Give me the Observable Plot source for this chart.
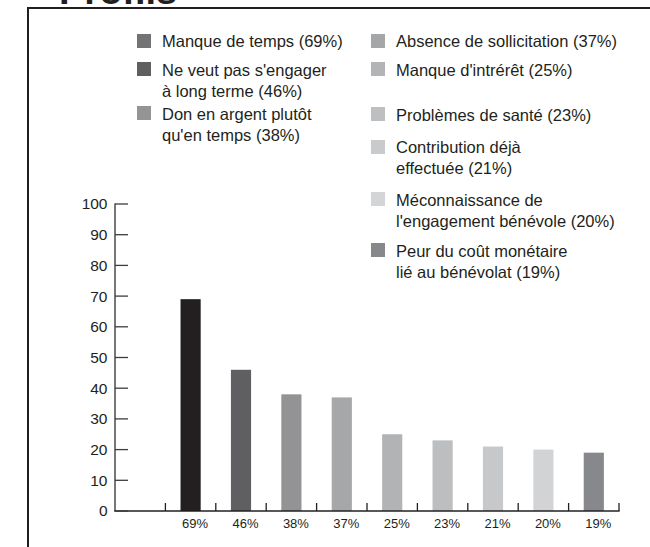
<!DOCTYPE html>
<html><head><meta charset="utf-8">
<script src="https://cdn.jsdelivr.net/npm/d3@7"></script>
<script src="https://cdn.jsdelivr.net/npm/@observablehq/plot@0.6"></script>
<style>
html,body{margin:0;padding:0;background:#fff;}
#wrap{position:relative;width:650px;height:547px;overflow:hidden;font-family:"Liberation Sans",Arial,Helvetica,sans-serif;color:#231f20;}
#frame{position:absolute;left:27px;top:7px;right:-5px;bottom:-10px;border-left:2px solid #231f20;border-top:2px solid #231f20;}
#title{position:absolute;left:59px;top:-27.7px;font-weight:bold;font-size:38px;line-height:38px;white-space:nowrap;}
.sq{position:absolute;width:14px;height:14px;}
.txt{position:absolute;font-size:16.5px;line-height:21px;white-space:nowrap;}
#chart{position:absolute;left:0;top:0;}
</style>
</head><body>
<div id="wrap">
  <div id="title">Profils</div>
  <div id="frame"></div>
  <div id="chart"></div>
  <div id="legend"></div>
</div>
<script>
// ---- data ----
const reasons = [
  "Manque de temps",
  "Ne veut pas s'engager à long terme",
  "Don en argent plutôt qu'en temps",
  "Absence de sollicitation",
  "Manque d'intrérêt",
  "Problèmes de santé",
  "Contribution déjà effectuée",
  "Méconnaissance de l'engagement bénévole",
  "Peur du coût monétaire lié au bénévolat"
];
const values = [69, 46, 38, 37, 25, 23, 21, 20, 19];
const xTickLabels = ["69%", "46%", "38%", "37%", "25%", "23%", "21%", "20%", "19%"];
const yTicks = [0, 10, 20, 30, 40, 50, 60, 70, 80, 90, 100];
const legendLines = [
  ["Manque de temps (69%)"],
  ["Ne veut pas s'engager", "à long terme (46%)"],
  ["Don en argent plutôt", "qu'en temps (38%)"],
  ["Absence de sollicitation (37%)"],
  ["Manque d'intrérêt (25%)"],
  ["Problèmes de santé (23%)"],
  ["Contribution déjà", "effectuée (21%)"],
  ["Méconnaissance de", "l'engagement bénévole (20%)"],
  ["Peur du coût monétaire", "lié au bénévolat (19%)"]
];
const barColors = ["#231f20", "#5f5f61", "#939396", "#a6a7a9", "#b2b3b5", "#bdbec0", "#c7c8ca", "#d2d3d5", "#87888b"];
const legendColors = ["#737375", "#5f5f61", "#949497", "#a5a6a8", "#b3b4b6", "#bebfc1", "#c9cacc", "#d4d5d7", "#87888b"];

// ---- layout (styling only) ----
const legendLayout = [
  {left: 137, base: 47.5}, {left: 137, base: 76}, {left: 137, base: 120},
  {left: 371, base: 47.5}, {left: 371, base: 76}, {left: 371, base: 121},
  {left: 371, base: 153.5}, {left: 371, base: 206}, {left: 371, base: 257}
];

const data = reasons.map((r, i) => ({reason: r, value: values[i], label: xTickLabels[i]}));
const labelOf = new Map(data.map(d => [d.reason, d.label]));
const placeholder = " ";
const xDomain = [placeholder, ...reasons];

const plot = Plot.plot({
  width: 650, height: 547,
  marginLeft: 115, marginRight: 31, marginTop: 204, marginBottom: 36,
  style: {fontFamily: "Liberation Sans, Arial, sans-serif", color: "#231f20", background: "transparent"},
  x: {domain: xDomain, paddingInner: 0.6, paddingOuter: 0.3, round: false, label: null},
  y: {domain: [0, 100], label: null},
  color: {domain: reasons, range: barColors},
  marks: [
    Plot.barY(data, {x: "reason", y: "value", fill: "reason"}),
    Plot.axisY(yTicks, {tickSize: 0, tickPadding: 8, fontSize: 15.5, label: null}),
    Plot.axisX({tickSize: 0, tickPadding: 7, dx: 4, fontSize: 13, tickFormat: d => labelOf.get(d) ?? "", label: null})
  ]
});
document.getElementById("chart").appendChild(plot);

// axis lines and inward ticks, placed with the plot's own scales
const sx = plot.scale("x"), sy = plot.scale("y");
const svg = d3.select(plot);
const x0 = sx.apply(placeholder) - (sx.step - sx.bandwidth) / 2;
const xEnd = sx.apply(reasons[reasons.length - 1]) + sx.bandwidth + (sx.step - sx.bandwidth) / 2;
const y0 = sy.apply(0), yTop = sy.apply(100);
const g = svg.append("g").attr("fill", "none");
g.append("line").attr("x1", x0).attr("x2", x0).attr("y1", yTop - 0.6).attr("y2", y0)
  .attr("stroke", "#4a4a4c").attr("stroke-width", 1.5);
g.append("line").attr("x1", x0 - 0.7).attr("x2", xEnd + 0.6).attr("y1", y0).attr("y2", y0)
  .attr("stroke", "#231f20").attr("stroke-width", 1.6);
yTicks.forEach(t => {
  const yy = sy.apply(t);
  g.append("line").attr("x1", x0).attr("x2", x0 + 13).attr("y1", yy).attr("y2", yy)
    .attr("stroke", "#3d3d3f").attr("stroke-width", 1.3);
});
xDomain.forEach(d => {
  const xr = sx.apply(d) + sx.bandwidth + (sx.step - sx.bandwidth) / 2;
  g.append("line").attr("x1", xr).attr("x2", xr).attr("y1", y0).attr("y2", y0 - 8)
    .attr("stroke", "#231f20").attr("stroke-width", 1.3);
});

// legend
const legend = document.getElementById("legend");
legendLines.forEach((lines, i) => {
  const L = legendLayout[i];
  const sq = document.createElement("div");
  sq.className = "sq";
  sq.style.left = L.left + "px";
  sq.style.top = (L.base - 14) + "px";
  sq.style.background = legendColors[i];
  legend.appendChild(sq);
  const t = document.createElement("div");
  t.className = "txt";
  t.style.left = (L.left + 25) + "px";
  t.style.top = (L.base - 16.2) + "px";
  t.innerHTML = lines.map(s => s.replace(/&/g, "&amp;").replace(/</g, "&lt;")).join("<br>");
  legend.appendChild(t);
});
</script>
</body></html>
